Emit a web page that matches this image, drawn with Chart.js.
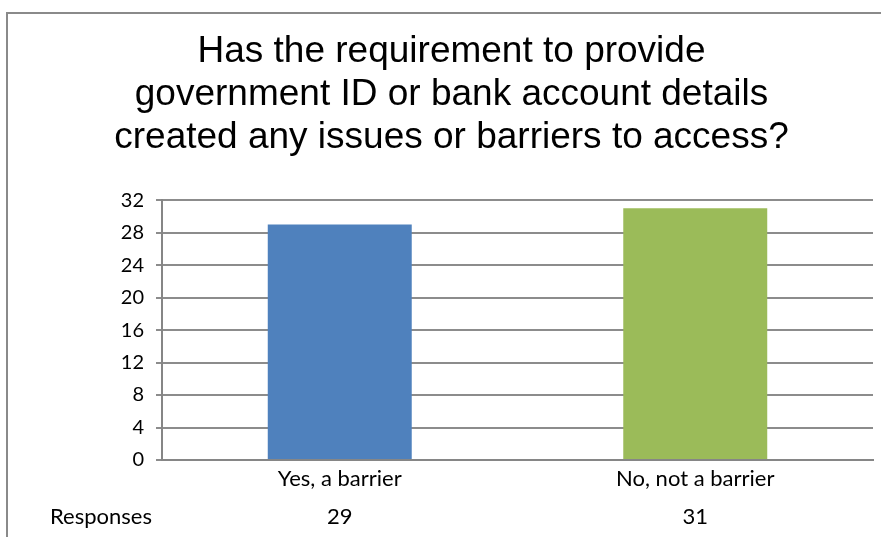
<!DOCTYPE html>
<html>
<head>
<meta charset="utf-8">
<script src="https://cdn.jsdelivr.net/npm/chart.js@4"></script>
<style>
  html, body { margin: 0; padding: 0; background: #fff; }
  #wrap { width: 881px; height: 537px; position: relative; }
</style>
</head>
<body>
<div id="wrap"><canvas id="barrierChart"></canvas></div>
<script>
const categories = ['Yes, a barrier', 'No, not a barrier'];
const responses = [29, 31];
const rowLabel = 'Responses';
const titleLines = [
  'Has the requirement to provide',
  'government ID or bank account details',
  'created any issues or barriers to access?'
];
const yMax = 32;
const yStep = 4;

const labelFont = 'Lato, "Open Sans", sans-serif';

// frame round the chart plus the data table row under the axis
const frameAndTable = {
  id: 'frameAndTable',
  beforeDraw(chart) {
    const ctx = chart.ctx;
    ctx.save();
    ctx.strokeStyle = '#8a8a8a';
    ctx.lineWidth = 2;
    ctx.beginPath();
    ctx.moveTo(7, 537);
    ctx.lineTo(7, 13);
    ctx.lineTo(881, 13);
    ctx.stroke();
    ctx.restore();
  },
  afterDraw(chart) {
    const ctx = chart.ctx;
    const x = chart.scales.x;
    ctx.save();
    ctx.fillStyle = '#000';
    ctx.font = '22px ' + labelFont;
    ctx.textBaseline = 'middle';
    ctx.textAlign = 'left';
    ctx.fillText(rowLabel, 50, 517);
    ctx.textAlign = 'center';
    responses.forEach((v, i) => {
      ctx.fillText(String(v), x.getPixelForValue(i), 517);
    });
    ctx.restore();
  }
};

const myChart = new Chart(document.getElementById('barrierChart'), {
  type: 'bar',
  data: {
    labels: categories,
    datasets: [{
      label: rowLabel,
      data: responses,
      backgroundColor: ['#4f81bd', '#9bbb59'],
      borderWidth: 0,
      categoryPercentage: 1,
      barPercentage: 0.405
    }]
  },
  options: {
    responsive: true,
    maintainAspectRatio: false,
    animation: false,
    layout: { padding: { left: 30, right: 8, top: 0, bottom: 40 } },
    plugins: {
      legend: { display: false },
      tooltip: { enabled: false },
      title: {
        display: true,
        text: titleLines,
        color: '#000',
        font: { family: '"Liberation Sans", Arial, sans-serif', size: 37, weight: 'normal', lineHeight: 1.15 },
        padding: { top: 31, bottom: 41.5 }
      }
    },
    scales: {
      x: {
        grid: { display: false },
        border: { color: '#868686', width: 2 },
        ticks: { color: '#000', font: { family: labelFont, size: 22 }, padding: -2 },
        afterFit(s) { s.height = 37; }
      },
      y: {
        min: 0,
        max: yMax,
        grid: { color: '#8c8c8c', lineWidth: 2, tickLength: 6, drawTicks: true },
        border: { color: '#868686', width: 2 },
        ticks: { stepSize: yStep, color: '#000', font: { family: labelFont, size: 20 }, padding: 12 },
        afterFit(s) { s.width = 132; }
      }
    }
  },
  plugins: [frameAndTable]
});
</script>
</body>
</html>
